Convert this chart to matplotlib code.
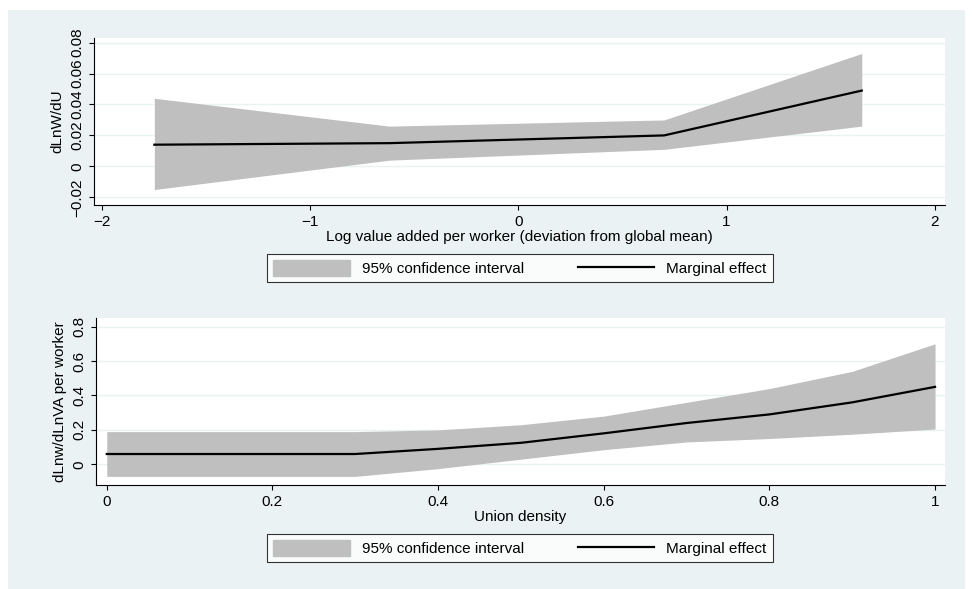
import numpy as np
import matplotlib
matplotlib.use("Agg")
from matplotlib import pyplot as plt
from matplotlib.patches import Patch, Rectangle
from matplotlib.lines import Line2D

# top panel: log value added per worker
x_top = [-1.75, -0.62, 0.70, 1.65]
me_top = [0.014, 0.015, 0.020, 0.049]
lo_top = [-0.015, 0.004, 0.011, 0.026]
hi_top = [0.044, 0.026, 0.030, 0.073]

# bottom panel: union density
x_bot = [0.0, 0.1, 0.2, 0.3, 0.4, 0.5, 0.6, 0.7, 0.8, 0.9, 1.0]
me_bot = [0.06, 0.06, 0.06, 0.06, 0.09, 0.125, 0.18, 0.24, 0.29, 0.36, 0.45]
lo_bot = [-0.07, -0.07, -0.07, -0.07, -0.025, 0.03, 0.085, 0.13, 0.15, 0.175, 0.205]
hi_bot = [0.19, 0.19, 0.19, 0.19, 0.20, 0.23, 0.28, 0.36, 0.44, 0.54, 0.70]

bg = '#eaf2f3'
fig = plt.figure(figsize=(9.72, 5.89), dpi=100, facecolor='white')
plt.rcParams['font.family'] = ['Liberation Sans', 'DejaVu Sans']
fig.patches.append(Rectangle((8/972, 0), 957/972, 1-10/589, transform=fig.transFigure,
                             facecolor=bg, edgecolor='none', zorder=-10))

ax1 = fig.add_axes([94/972, 1-205/589, 851/972, 167/589])
ax2 = fig.add_axes([96/972, 1-485/589, 849/972, 167/589])

def style(ax):
    ax.set_facecolor('white')
    for s in ['top', 'right']:
        ax.spines[s].set_visible(False)
    ax.yaxis.grid(True, color='#eaf2f3', lw=1)
    ax.set_axisbelow(True)
    ax.tick_params(labelsize=11)
    for t in ax.get_yticklabels():
        t.set_rotation(90)
        t.set_va('center')

ax1.fill_between(x_top, lo_top, hi_top, color='#bfbfbf', lw=0)
ax1.plot(x_top, me_top, color='black', lw=1.6)
ax1.set_xlim(-2.04, 2.05)
ax1.set_ylim(-0.025, 0.083)
ax1.set_xticks([-2, -1, 0, 1, 2])
ax1.set_xticklabels(['\u22122', '\u22121', '0', '1', '2'])
ax1.set_yticks([-0.02, 0, 0.02, 0.04, 0.06, 0.08])
ax1.set_yticklabels(['\u22120.02', '0', '0.02', '0.04', '0.06', '0.08'])
ax1.set_xlabel('Log value added per worker (deviation from global mean)', fontsize=11, labelpad=1)
ax1.set_ylabel('dLnW/dU', fontsize=11)
style(ax1)

ax2.fill_between(x_bot, lo_bot, hi_bot, color='#bfbfbf', lw=0)
ax2.plot(x_bot, me_bot, color='black', lw=1.6)
ax2.set_xlim(-0.013, 1.012)
ax2.set_ylim(-0.12, 0.85)
ax2.set_xticks([0, 0.2, 0.4, 0.6, 0.8, 1])
ax2.set_xticklabels(['0', '0.2', '0.4', '0.6', '0.8', '1'])
ax2.set_yticks([0, 0.2, 0.4, 0.6, 0.8])
ax2.set_yticklabels(['0', '0.2', '0.4', '0.6', '0.8'])
ax2.set_xlabel('Union density', fontsize=11, labelpad=1)
ax2.set_ylabel('dLnw/dLnVA per worker', fontsize=11)
style(ax2)

handles = [Patch(color='#bfbfbf', label='95% confidence interval'),
           Line2D([], [], color='black', lw=1.6, label='Marginal effect')]
for ycen in [1-268/589, 1-548/589]:
    leg = fig.legend(handles=handles, loc='center', bbox_to_anchor=(520/972, ycen),
                     ncol=2, fontsize=11, frameon=True, fancybox=False,
                     edgecolor='black', handlelength=5, handleheight=1.2,
                     columnspacing=3.5, borderpad=0.4)
    leg.get_frame().set_linewidth(0.8)

fig.savefig('out.png', dpi=100, facecolor='white')
